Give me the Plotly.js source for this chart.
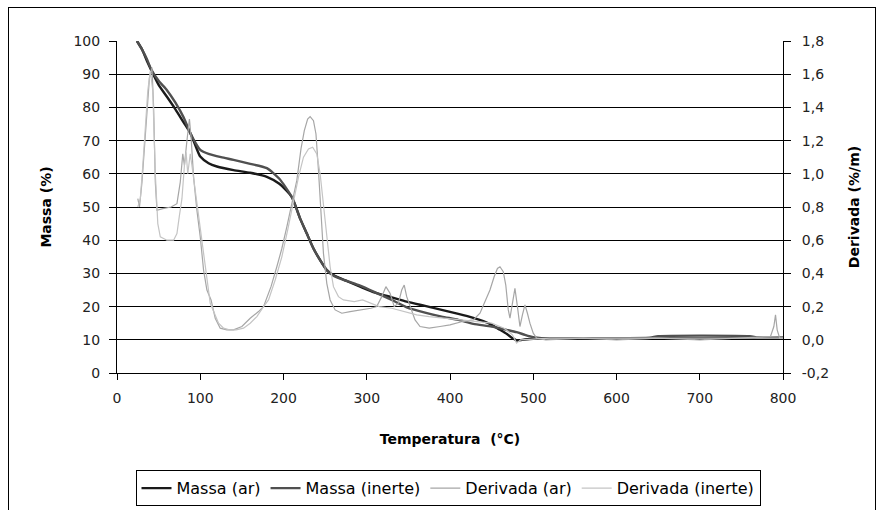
<!DOCTYPE html>
<html>
<head>
<meta charset="utf-8">
<script src="https://cdn.plot.ly/plotly-3.0.1.min.js"></script>
<style>
  html, body { margin: 0; padding: 0; background: #fff; }
  #frame { position: absolute; left: 8px; top: 7px; width: 866px; height: 520px; border: 1px solid #000; }
  #chart { position: absolute; left: 0; top: 0; width: 880px; height: 510px; }
</style>
</head>
<body>
<div id="frame"></div>
<div id="chart"></div>
<script>
// Massa (ar)
const massaArT = [24, 30, 36, 41, 50, 60, 70, 80, 88, 95, 100, 110, 120, 140, 160, 180, 195, 210, 220, 228, 236, 244, 252, 260, 275, 292, 310, 330, 348, 370, 390, 410, 428, 440, 450, 460, 468, 475, 480, 490, 500, 550, 600, 700, 800];
const massaArV = [100, 97.5, 94, 91.3, 86.8, 83.2, 79.5, 75.5, 72.3, 68, 65.2, 63.2, 62.2, 61.1, 60.3, 59.1, 57, 53, 46.5, 42, 37.5, 34, 31, 29.5, 27.8, 26, 24.2, 22.8, 21.5, 20.2, 19, 17.8, 16.6, 15.6, 14.5, 13, 11.8, 10.5, 9.8, 10.1, 10.3, 10.4, 10.5, 10.5, 10.5];
// Massa (inerte)
const massaInT = [24, 30, 36, 41, 50, 60, 70, 80, 88, 95, 100, 110, 125, 140, 160, 180, 195, 210, 220, 228, 236, 244, 252, 260, 275, 292, 310, 330, 348, 370, 390, 410, 428, 450, 468, 480, 490, 500, 510, 550, 640, 650, 760, 770, 800];
const massaInV = [100, 97.5, 94.5, 91.5, 88, 85.2, 81.5, 77, 72.3, 69, 67.2, 66, 65, 64.2, 63, 61.7, 58.5, 53, 46.5, 42, 37.5, 34, 31, 29.3, 27.8, 26.3, 24.3, 22, 19.8, 18.2, 17, 16, 14.8, 14, 13, 12.3, 11.5, 10.8, 10.5, 10.5, 10.6, 11.1, 11.1, 10.7, 10.7];
// Derivada (ar)
const derivArT = [25, 27, 30, 33, 36, 39, 42, 44, 46, 48, 55, 65, 72, 76, 79, 81, 84, 87, 89, 92, 96, 100, 104, 108, 113, 118, 124, 132, 140, 150, 160, 170, 176, 185, 192, 198, 204, 210, 216, 221, 225, 229, 232, 236, 239, 242, 245, 248, 252, 256, 262, 270, 280, 295, 305, 312, 318, 323, 328, 333, 338, 342, 345, 348, 352, 358, 364, 375, 388, 400, 415, 428, 436, 443, 448, 453, 457, 460, 464, 467, 470, 472, 475, 478, 481, 484, 487, 490, 493, 496, 500, 504, 515, 560, 600, 650, 700, 750, 785, 789, 791, 793, 796, 800];
const derivArV = [0.85, 0.80, 0.95, 1.15, 1.40, 1.58, 1.64, 1.40, 0.95, 0.78, 0.79, 0.80, 0.82, 0.95, 1.12, 1.05, 1.20, 1.33, 1.22, 0.98, 0.78, 0.62, 0.42, 0.30, 0.24, 0.13, 0.07, 0.06, 0.06, 0.08, 0.13, 0.17, 0.20, 0.32, 0.44, 0.55, 0.68, 0.82, 0.96, 1.15, 1.26, 1.33, 1.345, 1.32, 1.24, 1.02, 0.75, 0.52, 0.34, 0.24, 0.18, 0.16, 0.17, 0.18, 0.19, 0.20, 0.26, 0.32, 0.28, 0.20, 0.22, 0.30, 0.33, 0.26, 0.20, 0.12, 0.08, 0.07, 0.08, 0.09, 0.11, 0.12, 0.16, 0.24, 0.30, 0.38, 0.43, 0.44, 0.41, 0.33, 0.18, 0.13, 0.22, 0.31, 0.20, 0.08, 0.15, 0.21, 0.16, 0.10, 0.04, 0.01, 0.00, 0.01, 0.00, 0.01, 0.00, 0.01, 0.02, 0.08, 0.15, 0.06, 0.01, 0.01];
// Derivada (inerte)
const derivInT = [25, 28, 31, 34, 37, 40, 43, 46, 49, 52, 60, 68, 72, 75, 78, 81, 83, 85, 88, 90, 94, 98, 103, 107, 112, 117, 122, 128, 135, 143, 152, 160, 168, 176, 182, 190, 198, 205, 212, 218, 224, 230, 235, 240, 244, 248, 252, 256, 260, 266, 272, 285, 295, 305, 315, 330, 345, 360, 375, 395, 415, 435, 450, 465, 475, 480, 485, 520, 600, 700, 800];
const derivInV = [0.80, 0.85, 1.05, 1.30, 1.50, 1.62, 1.50, 1.00, 0.70, 0.62, 0.60, 0.60, 0.64, 0.75, 0.85, 1.05, 1.13, 1.00, 1.12, 1.05, 0.90, 0.75, 0.55, 0.38, 0.22, 0.16, 0.10, 0.07, 0.06, 0.06, 0.07, 0.10, 0.14, 0.20, 0.24, 0.36, 0.50, 0.66, 0.84, 0.98, 1.10, 1.15, 1.16, 1.12, 1.00, 0.80, 0.60, 0.44, 0.32, 0.26, 0.24, 0.23, 0.24, 0.22, 0.20, 0.19, 0.17, 0.15, 0.14, 0.13, 0.12, 0.11, 0.10, 0.07, 0.03, -0.02, 0.00, 0.01, 0.01, 0.01, 0.01];

const leftTicks = [0, 10, 20, 30, 40, 50, 60, 70, 80, 90, 100];
const rightTicks = [-0.2, 0, 0.2, 0.4, 0.6, 0.8, 1.0, 1.2, 1.4, 1.6, 1.8];
const rightTickText = ['-0,2', '0,0', '0,2', '0,4', '0,6', '0,8', '1,0', '1,2', '1,4', '1,6', '1,8'];
const xTicks = [0, 100, 200, 300, 400, 500, 600, 700, 800];

const traces = [
  {x: derivArT, y: derivArV, name: 'Derivada (ar)', yaxis: 'y2', mode: 'lines', line: {color: '#a6a6a6', width: 1.2}, legendrank: 3},
  {x: derivInT, y: derivInV, name: 'Derivada (inerte)', yaxis: 'y2', mode: 'lines', line: {color: '#c4c4c4', width: 1.2}, legendrank: 4},
  {x: massaArT, y: massaArV, name: 'Massa (ar)', yaxis: 'y', mode: 'lines', line: {color: '#1a1a1a', width: 2.4, shape: 'spline', smoothing: 0.6}, legendrank: 1},
  {x: massaInT, y: massaInV, name: 'Massa (inerte)', yaxis: 'y', mode: 'lines', line: {color: '#505050', width: 2.4, shape: 'spline', smoothing: 0.6}, legendrank: 2}
];

const FAM = 'DejaVu Sans, Arial, sans-serif';
const tickFont = {family: FAM, size: 14, color: '#222'};
const titleFont = {family: FAM, size: 14, color: '#000', weight: 'bold'};

const layout = {
  width: 880, height: 510,
  margin: {l: 117, r: 97, t: 41, b: 137},
  paper_bgcolor: 'rgba(0,0,0,0)',
  plot_bgcolor: 'rgba(0,0,0,0)',
  showlegend: true,
  legend: {
    orientation: 'h', xref: 'paper', x: 0.497, xanchor: 'center',
    yref: 'container', y: 0.078, yanchor: 'top',
    bordercolor: '#000', borderwidth: 1, bgcolor: '#fff',
    font: {family: FAM, size: 16, color: '#000'},
    itemwidth: 30, tracegroupgap: 0, traceorder: 'normal'
  },
  xaxis: {
    range: [0, 800], tickvals: xTicks, ticks: 'outside', ticklen: 6, tickcolor: '#000',
    showline: true, linecolor: '#000', linewidth: 1, showgrid: false, zeroline: false,
    tickfont: tickFont, ticklabelstandoff: 6, automargin: false,
    title: {text: 'Temperatura  (°C)', font: titleFont, standoff: 29}
  },
  yaxis: {
    range: [0, 100], tickvals: leftTicks, ticks: 'outside', ticklen: 7, tickcolor: '#000',
    showline: true, linecolor: '#000', linewidth: 1, automargin: false,
    showgrid: true, gridcolor: '#000', gridwidth: 1, zeroline: false,
    tickfont: tickFont, ticklabelstandoff: 6,
    title: {text: 'Massa (%)', font: titleFont, standoff: 18}
  },
  yaxis2: {
    range: [-0.2, 1.8], tickvals: rightTicks, ticktext: rightTickText, overlaying: 'y', side: 'right',
    ticks: 'outside', ticklen: 7, tickcolor: '#000', automargin: false,
    showline: true, linecolor: '#000', linewidth: 1, showgrid: false, zeroline: false,
    tickfont: tickFont, ticklabelstandoff: 8,
    title: {text: 'Derivada (%/m)', font: titleFont, standoff: 21}
  }
};

Plotly.newPlot('chart', traces, layout, {displayModeBar: false, staticPlot: true});
</script>
</body>
</html>
